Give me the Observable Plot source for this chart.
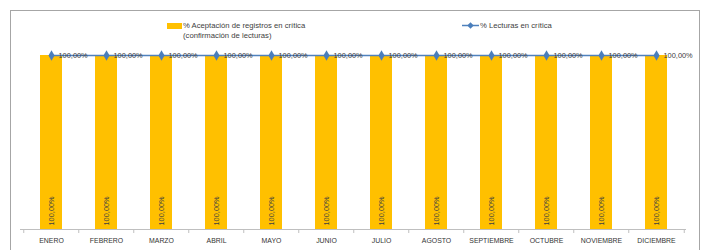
<!DOCTYPE html>
<html>
<head>
<meta charset="utf-8">
<script src="https://cdn.jsdelivr.net/npm/d3@7"></script>
<script src="https://cdn.jsdelivr.net/npm/@observablehq/plot@0.6"></script>
<style>
  html, body { margin: 0; padding: 0; background: #fff; }
  #wrap { position: relative; width: 708px; height: 250px; overflow: hidden; font-family: "Liberation Sans", Arial, sans-serif; color: #404040; }
  #frame { position: absolute; left: 10px; top: 10px; width: 690px; height: 260px; border: 1px solid #a6a6a6; box-sizing: border-box; }
  #chart { position: absolute; left: 0; top: 0; }
  .leg { position: absolute; font-size: 7.7px; line-height: 10px; white-space: nowrap; }
  .sw { position: absolute; }
</style>
</head>
<body>
<div id="wrap">
  <div id="frame"></div>
  <div id="chart"></div>
  <div class="sw" style="left:167px; top:23px; width:15px; height:6px; background:#ffc000;"></div>
  <div class="leg" id="leg1" style="left:183px; top:21px;"></div>
  <svg class="sw" style="left:462px; top:21px;" width="17" height="9">
    <line x1="0" y1="4.5" x2="17" y2="4.5" stroke="#4f81bd" stroke-width="1.5"></line>
    <path d="M8.5,1.3 L11.7,4.5 L8.5,7.7 L5.3,4.5 Z" fill="#4a7ebb"></path>
  </svg>
  <div class="leg" id="leg2" style="left:480px; top:21px;"></div>
</div>
<script>
const months = ["ENERO","FEBRERO","MARZO","ABRIL","MAYO","JUNIO","JULIO","AGOSTO","SEPTIEMBRE","OCTUBRE","NOVIEMBRE","DICIEMBRE"];
const aceptacion = [1,1,1,1,1,1,1,1,1,1,1,1];
const lecturas = [1,1,1,1,1,1,1,1,1,1,1,1];
const seriesNames = ["% Aceptación de registros en crítica", "(confirmación de lecturas)", "% Lecturas en crítica"];

document.getElementById("leg1").innerHTML = seriesNames[0] + "<br>" + seriesNames[1];
document.getElementById("leg2").textContent = seriesNames[2];

const fmt = v => (v * 100).toFixed(2).replace(".", ",") + "%";
const data = months.map((m, i) => ({month: m, a: aceptacion[i], l: lecturas[i]}));

const W = 708, H = 250, mL = 20, mR = 22, mT = 55, mB = 21;
const step = (W - mL - mR) / months.length;

const chart = Plot.plot({
  width: W, height: H,
  marginLeft: mL, marginRight: mR, marginTop: mT, marginBottom: mB,
  style: {fontFamily: "'Liberation Sans', Arial, sans-serif", background: "transparent", color: "#404040"},
  x: {type: "band", domain: months, paddingInner: 0.6, paddingOuter: 0.3, axis: null},
  y: {type: "linear", domain: [0, 1], axis: null},
  marks: [
    Plot.barY(data, {x: "month", y: "a", fill: "#ffc000"}),
    Plot.ruleY([0], {stroke: "#bfbfbf", strokeWidth: 1}),
    Plot.ruleX(data, {x: "month", y1: 0, y2: 0, insetTop: 4, dx: -step / 2, stroke: "#bfbfbf"}),
    Plot.ruleX([months[months.length - 1]], {x: d => d, y1: 0, y2: 0, insetTop: 4, dx: step / 2, stroke: "#bfbfbf"}),
    Plot.text(data, {x: "month", y: 0, text: d => d.month, dy: 11, fontSize: 6.9, fill: "#333333"}),
    Plot.text(data, {x: "month", y: 0, text: d => fmt(d.a), rotate: -90, textAnchor: "start", dy: -4, fontSize: 7.4, fill: "#404040"}),
    Plot.lineY(data, {x: "month", y: "l", stroke: "#4f81bd", strokeWidth: 1.6}),
    Plot.dot(data, {x: "month", y: "l", symbol: "diamond", r: 3.2, fill: "#4a7ebb", stroke: "none"}),
    Plot.text(data, {x: "month", y: "l", text: d => fmt(d.l), textAnchor: "start", dx: 7, fontSize: 7.4, fill: "#404040"})
  ]
});
document.getElementById("chart").appendChild(chart);
</script>
</body>
</html>
